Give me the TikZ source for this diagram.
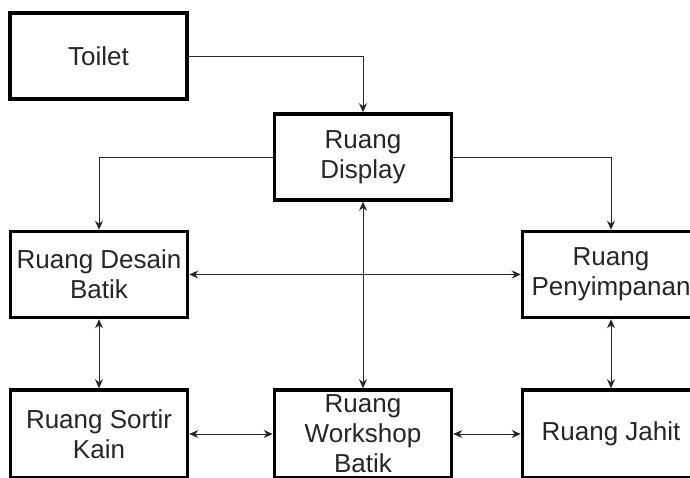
\documentclass[tikz,border=0pt]{standalone}
\usepackage{fontspec}
\setmainfont{Liberation Sans}
\usepackage{tikz}
\usetikzlibrary{arrows.meta}

\begin{document}
\begin{tikzpicture}[x=1pt, y=-1pt, >={Stealth[length=9pt, width=8pt]},
    ruang/.style={draw=black, line width=3.5pt, fill=white, minimum width=177pt,
        minimum height=86pt, align=center, inner sep=1pt, text=black!85,
        font=\fontsize{26}{30}\selectfont},
    alur/.style={line width=1pt, draw=black!85}]
    % Batas gambar
    \useasboundingbox (0,0) rectangle (690,477);
    \clip (0,0) rectangle (690,477);

    % Ruang-ruang
    \node[ruang] (toilet) at (98.5,56) {Toilet};
    \node[ruang] (display) at (363,157) {Ruang\\Display};
    \node[ruang] (desain) at (99,274.5) {Ruang Desain\\Batik};
    \node[ruang] (simpan) at (611,274.5) {Ruang\\Penyimpanan};
    \node[ruang, minimum height=88pt] (sortir) at (99,434) {Ruang Sortir\\Kain};
    \node[ruang, minimum height=88pt] (workshop) at (363,434) {Ruang\\Workshop\\Batik};
    \node[ruang, minimum height=88pt] (jahit) at (611,434) {Ruang Jahit};

    % Alur satu arah
    \draw[alur, ->] (toilet.east) -| (display.north);
    \draw[alur, ->] (display.west) -| (desain.north);
    \draw[alur, ->] (display.east) -| (simpan.north);

    % Alur dua arah
    \draw[alur, <->] (desain.east) -- (simpan.west);
    \draw[alur, <->] (display.south) -- (workshop.north);
    \draw[alur, <->] (desain.south) -- (sortir.north);
    \draw[alur, <->] (simpan.south) -- (jahit.north);
    \draw[alur, <->] (sortir.east) -- (workshop.west);
    \draw[alur, <->] (workshop.east) -- (jahit.west);
\end{tikzpicture}
\end{document}
